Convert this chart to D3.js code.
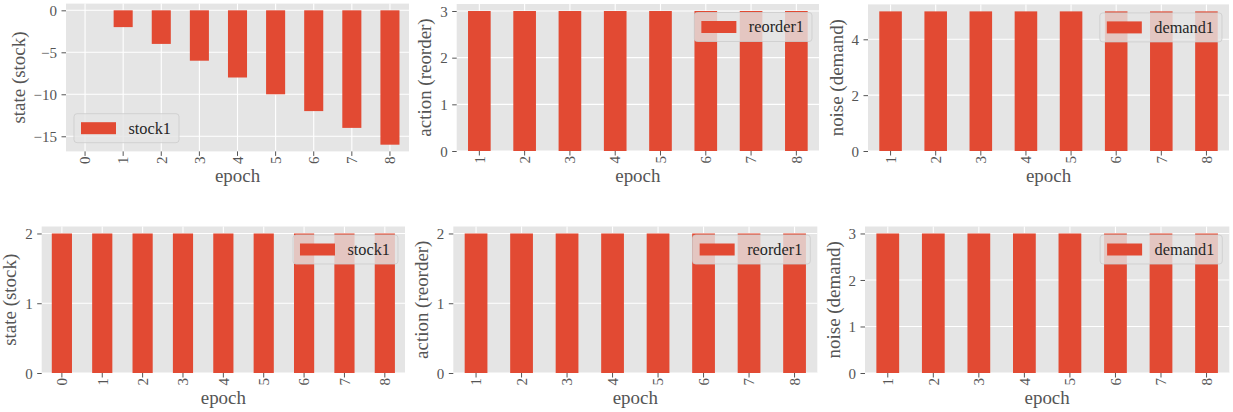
<!DOCTYPE html>
<html><head><meta charset="utf-8">
<script src="https://cdn.jsdelivr.net/npm/d3@7"></script>
<style>
html,body{margin:0;padding:0;background:#fff;}
svg{display:block;}
</style></head>
<body><svg id="c" width="1233" height="412"></svg>
<script>
// ---- data ----
const epochsState = ["0","1","2","3","4","5","6","7","8"];
const epochsStep  = ["1","2","3","4","5","6","7","8"];

const stockTop    = [0,-2,-4,-6,-8,-10,-12,-14,-16];
const reorderTop  = [3,3,3,3,3,3,3,3];
const demandTop   = [5,5,5,5,5,5,5,5];
const stockBot    = [2,2,2,2,2,2,2,2,2];
const reorderBot  = [2,2,2,2,2,2,2,2];
const demandBot   = [3,3,3,3,3,3,3,3];

const ticksStockTop   = [0,-5,-10,-15];
const ticksReorderTop = [0,1,2,3];
const ticksDemandTop  = [0,2,4];
const ticksStockBot   = [0,1,2];
const ticksReorderBot = [0,1,2];
const ticksDemandBot  = [0,1,2,3];

const xLabel = "epoch";

// ---- fonts ----
const FF = '"Liberation Serif", "Times New Roman", serif';
const cv = document.createElement("canvas").getContext("2d");
function w(size, s){ cv.font = `${size}px "Liberation Serif", serif`; return cv.measureText(s).width; }
function fit(s, target){ return 40 * target / w(40, s); }
const fsTick  = Math.min(fit("\u221215", 25.7), 15);
const fsLabel = (fit("epoch", 43) + fit("state (stock)", 96.7)) / 2;
const fsLeg   = (fit("stock1", 42.7) + fit("reorder1", 55)) / 2;

// ---- layout ----
const panels = [
  {cats:epochsState, vals:stockTop,   ticks:ticksStockTop,   ylab:"state (stock)",   leg:"stock1",   box:[66,3.6,409,151.4],  legPos:"ll"},
  {cats:epochsStep,  vals:reorderTop, ticks:ticksReorderTop, ylab:"action (reorder)",leg:"reorder1", box:[456.7,4,819,151],   legPos:"ur"},
  {cats:epochsStep,  vals:demandTop,  ticks:ticksDemandTop,  ylab:"noise (demand)",  leg:"demand1",  box:[868,4.4,1229,151],  legPos:"ur"},
  {cats:epochsState, vals:stockBot,   ticks:ticksStockBot,   ylab:"state (stock)",   leg:"stock1",   box:[41.7,226.5,405,373], legPos:"ur"},
  {cats:epochsStep,  vals:reorderBot, ticks:ticksReorderBot, ylab:"action (reorder)",leg:"reorder1", box:[453.3,226.5,817.3,373], legPos:"ur"},
  {cats:epochsStep,  vals:demandBot,  ticks:ticksDemandBot,  ylab:"noise (demand)",  leg:"demand1",  box:[865,226.5,1229.3,373], legPos:"ur"}
];

const BG="#E5E5E5", BAR="#E24A33", TXT="#555555";
const svg = d3.select("#c");

panels.forEach(p=>{
  const [L,T,R,B] = p.box;
  const lo = Math.min(0, d3.min(p.vals)), hi = Math.max(0, d3.max(p.vals));
  const pad = (hi-lo)*0.05;
  const dom = lo < 0 ? [lo-pad, hi+pad] : [0, hi+pad];
  const y = d3.scaleLinear().domain(dom).range([B,T]);
  const x = d3.scaleBand().domain(p.cats).range([L,R]).paddingInner(0.5).paddingOuter(0.25);
  const g = svg.append("g");

  g.append("rect").attr("x",L).attr("y",T).attr("width",R-L).attr("height",B-T).attr("fill",BG);

  // grid
  g.selectAll(".gy").data(p.ticks).join("line")
    .attr("x1",L).attr("x2",R).attr("y1",d=>y(d)).attr("y2",d=>y(d))
    .attr("stroke","#fff").attr("stroke-width",1.1);
  g.selectAll(".gx").data(p.cats).join("line")
    .attr("y1",T).attr("y2",B).attr("x1",d=>x(d)+x.bandwidth()/2).attr("x2",d=>x(d)+x.bandwidth()/2)
    .attr("stroke","#fff").attr("stroke-width",1.1);

  // bars
  g.selectAll(".bar").data(p.cats.map((c,i)=>({c,v:p.vals[i]}))).join("rect")
    .attr("x",d=>x(d.c)).attr("width",x.bandwidth())
    .attr("y",d=>Math.min(y(0),y(d.v))).attr("height",d=>Math.abs(y(d.v)-y(0)))
    .attr("fill",BAR);

  // y axis
  const ya = g.append("g").attr("transform",`translate(${L},0)`)
    .call(d3.axisLeft(y).tickValues(p.ticks).tickSize(4.5).tickPadding(4.5).tickFormat(d=>d<0?"\u2212"+Math.abs(d):String(d)));
  ya.select(".domain").remove();
  ya.attr("font-family",FF);
  ya.selectAll("line").attr("stroke",TXT).attr("stroke-width",1);
  ya.selectAll("text").attr("fill",TXT).attr("font-size",fsTick).attr("dy","0.35em");

  // x axis
  const xa = g.append("g").attr("transform",`translate(0,${B})`)
    .call(d3.axisBottom(x).tickSize(4.5).tickPadding(0));
  xa.select(".domain").remove();
  xa.attr("font-family",FF);
  xa.selectAll("line").attr("stroke",TXT).attr("stroke-width",1);
  xa.selectAll("text").attr("fill",TXT).attr("font-size",fsTick)
    .attr("text-anchor","end").attr("y",0).attr("dy","0.35em")
    .attr("transform","translate(0,5) rotate(-90)");

  let maxW = 0;
  ya.selectAll("text").each(function(){ maxW = Math.max(maxW, this.getComputedTextLength()); });

  // axis labels
  g.append("text").attr("x",(L+R)/2).attr("y",B+30.5).attr("text-anchor","middle")
    .attr("font-family",FF).attr("fill",TXT).attr("font-size",fsLabel).text(xLabel);
  g.append("text").attr("transform",`translate(${L-9-maxW-9},${(T+B)/2}) rotate(-90)`)
    .attr("text-anchor","middle").attr("font-family",FF).attr("fill",TXT).attr("font-size",fsLabel).text(p.ylab);

  // legend
  const lg = g.append("g");
  const txt = lg.append("text").attr("font-family",FF).attr("font-size",fsLeg).attr("fill","#262626").text(p.leg);
  const tw = txt.node().getComputedTextLength();
  const bw = 7+35+12.5+tw+8, bh = 29;
  const bx = p.legPos==="ll" ? L+8 : R-7-bw;
  const by = p.legPos==="ll" ? B-8.7-bh : T+8.5;
  lg.insert("rect","text").attr("x",bx).attr("y",by).attr("width",bw).attr("height",bh).attr("rx",3)
    .attr("fill","rgba(229,229,229,0.8)").attr("stroke","rgba(204,204,204,0.8)").attr("stroke-width",1);
  lg.insert("rect","text").attr("x",bx+7).attr("y",by+bh/2-6).attr("width",35).attr("height",12).attr("fill",BAR);
  txt.attr("x",bx+7+35+12.5).attr("y",by+bh/2).attr("dy","0.33em");
});
</script></body></html>
